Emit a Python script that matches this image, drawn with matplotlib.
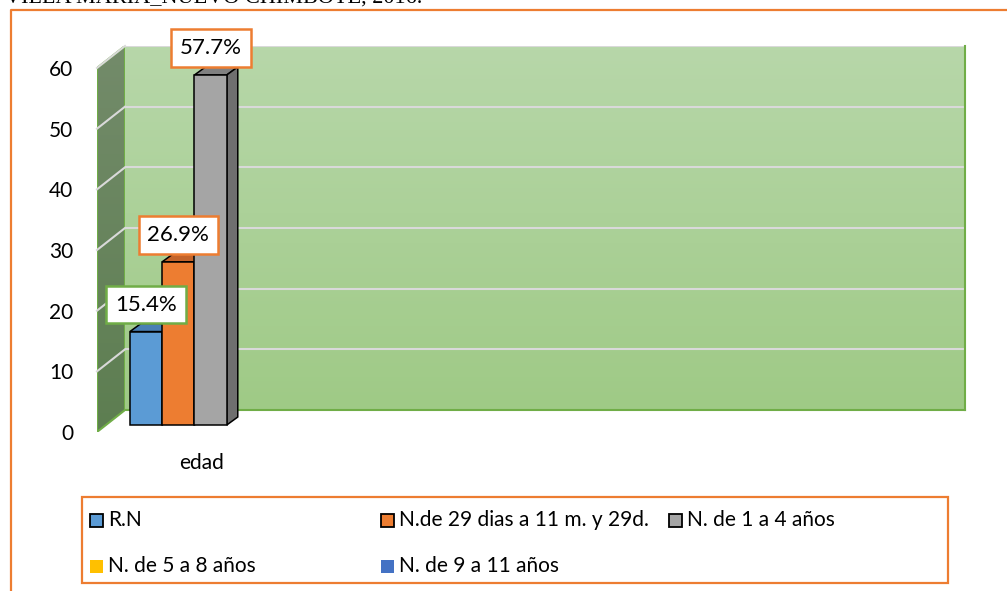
import numpy as np
import matplotlib
matplotlib.use("Agg")
import matplotlib.pyplot as plt
import matplotlib.transforms as mtransforms
from matplotlib.patches import Polygon, Rectangle
from matplotlib.lines import Line2D
from matplotlib.colors import LinearSegmentedColormap

# chart data
category = "edad"
series = ["R.N", "N.de 29 dias a 11 m. y 29d.", "N. de 1 a 4 años",
          "N. de 5 a 8 años", "N. de 9 a 11 años"]
values = [15.4, 26.9, 57.7, 0, 0]
yticks = [0, 10, 20, 30, 40, 50, 60]
title = "VILLA MARIA_NUEVO CHIMBOTE, 2016."

# styling
colors = ["#5B9BD5", "#ED7D31", "#A5A5A5", "#FFC000", "#4472C4"]
side_colors = ["#41719C", "#AE5A21", "#6F6F6F", "#BC8C00", "#2F528F"]
top_colors = ["#4A80B4", "#C4642A", "#808080", "#DDA800", "#3A62AC"]
label_edges = ["#70AD47", "#ED7D31", "#ED7D31", "#ED7D31", "#ED7D31"]
ORANGE = "#ED7D31"
GREEN = "#70AD47"

W, H, DPI = 1007, 591, 100
plt.rcParams["font.family"] = ["Lato", "DejaVu Sans"]


def fx(x):
    return x / W


def fy(y):
    return 1 - y / H


fig = plt.figure(figsize=(W / DPI, H / DPI), dpi=DPI)

# front plane of the plot (pixels from top-left)
X0, X1, Y0, Y60 = 97, 937, 432, 68
BACK = (28, 22)      # wall depth
BAR_OFF = (9, 7)     # bars sit a bit behind the front plane
BAR_DEPTH = np.array([11, 8])

# back wall
back = fig.add_axes([fx(X0 + BACK[0]), fy(Y0 - BACK[1]), (X1 - X0) / W, (Y0 - Y60) / H])
back.set_zorder(0)
grad = LinearSegmentedColormap.from_list("wall", ["#9FCA86", "#B7D7A9"])
back.imshow(np.linspace(0, 1, 100).reshape(-1, 1), cmap=grad, origin="lower",
            aspect="auto", extent=[0, 1, 0, 60])
back.set_xlim(0, 1)
back.set_ylim(0, 60)
for v in yticks[1:]:
    back.axhline(v, color="#D9D9D9", lw=1.5)
back.set_xticks([])
back.set_yticks([])
for s in ["left", "top"]:
    back.spines[s].set_visible(False)
for s in ["right", "bottom"]:
    back.spines[s].set_color(GREEN)
    back.spines[s].set_linewidth(1.5)

# front axes holding bars and ticks
ax = fig.add_axes([fx(X0), fy(Y0), (X1 - X0) / W, (Y0 - Y60) / H])
ax.set_zorder(3)
ax.patch.set_alpha(0)
w = 0.2
xs = (np.arange(len(series)) - 2) * w
ax.set_xlim(-0.648, 4.554)
ax.set_ylim(0, 60)
for s in ax.spines.values():
    s.set_visible(False)
ax.set_yticks(yticks)
ax.set_xticks([0], [category])
ax.tick_params(axis="y", length=0, pad=17, labelsize=15)
ax.tick_params(axis="x", length=0, pad=15, labelsize=15)

# side wall
side = fig.add_axes([fx(X0), fy(Y0), BACK[0] / W, (Y0 - Y60 + BACK[1]) / H])
side.set_zorder(1)
side.axis("off")
sh = Y0 - Y60 + BACK[1]
side.set_xlim(0, BACK[0])
side.set_ylim(0, sh)
wall_poly = Polygon([(0, 0), (0, Y0 - Y60), (BACK[0], sh), (BACK[0], BACK[1])],
                    closed=True, facecolor="none", edgecolor=GREEN, lw=1.5)
side.add_patch(wall_poly)
side_grad = LinearSegmentedColormap.from_list("side", ["#5D7E51", "#738B6A"])
im = side.imshow(np.linspace(0, 1, 100).reshape(-1, 1), cmap=side_grad, origin="lower",
                 aspect="auto", extent=[0, BACK[0], 0, sh])
im.set_clip_path(wall_poly)
ident = mtransforms.IdentityTransform()
for v in yticks[1:]:
    p0 = ax.transData.transform((ax.get_xlim()[0], v))
    p1 = back.transData.transform((0, v))
    side.add_line(Line2D([p0[0], p1[0]], [p0[1], p1[1]], color="#D9D9D9", lw=1.5,
                         transform=ident, clip_on=False))

# bars with fake depth
bar_tr = ax.transData + mtransforms.ScaledTranslation(BAR_OFF[0] / DPI, BAR_OFF[1] / DPI,
                                                      fig.dpi_scale_trans)
z = 2
for i, (x, v) in enumerate(zip(xs, values)):
    if v <= 0:
        continue
    p = bar_tr.transform([(x - w / 2, 0), (x + w / 2, 0), (x + w / 2, v), (x - w / 2, v)])
    top = [p[3], p[2], p[2] + BAR_DEPTH, p[3] + BAR_DEPTH]
    sidef = [p[1], p[1] + BAR_DEPTH, p[2] + BAR_DEPTH, p[2]]
    ax.add_patch(Polygon(top, closed=True, facecolor=top_colors[i], edgecolor="black",
                         lw=1.1, transform=ident, clip_on=False, zorder=z))
    ax.add_patch(Polygon(sidef, closed=True, facecolor=side_colors[i], edgecolor="black",
                         lw=1.1, transform=ident, clip_on=False, zorder=z))
    ax.bar(x, v, w, color=colors[i], edgecolor="black", lw=1.1, transform=bar_tr,
           clip_on=False, zorder=z + 1)
    z += 2

for i, (x, v) in enumerate(zip(xs, values)):
    if v <= 0:
        continue
    ax.annotate(f"{v:.1f}%", xy=(x, v), xycoords=bar_tr, xytext=(0, 27),
                textcoords="offset pixels", ha="center", va="center", fontsize=16,
                bbox=dict(boxstyle="square,pad=0.4", fc="white", ec=label_edges[i], lw=1.8),
                annotation_clip=False, zorder=20)

# legend (Excel spreads the entries unevenly, so place them by hand)
fig.add_artist(Rectangle((fx(82), fy(583)), 866 / W, 86 / H, transform=fig.transFigure,
                         fill=False, ec=ORANGE, lw=1.6))
slots = [(90, 520), (381, 520), (669, 520), (90, 566), (381, 566)]
bordered = [True, True, True, False, False]
for (lx, ly), name, c, b in zip(slots, series, colors, bordered):
    fig.add_artist(Rectangle((fx(lx), fy(ly + 6.5)), 13 / W, 13 / H, transform=fig.transFigure,
                             fc=c, ec="black" if b else c, lw=1.3 if b else 0))
    fig.text(fx(lx + 18), fy(ly), name, fontsize=15, va="center", ha="left")

# outer frame, cut off by the crop
fig.add_artist(Line2D([fx(11), fx(11), 1], [0, fy(10), fy(10)], transform=fig.transFigure,
                      color=ORANGE, lw=1.6))
fig.text(fx(5), fy(3), title, family="Liberation Serif", fontsize=16, va="baseline", ha="left")

fig.savefig("out.png", dpi=DPI)
